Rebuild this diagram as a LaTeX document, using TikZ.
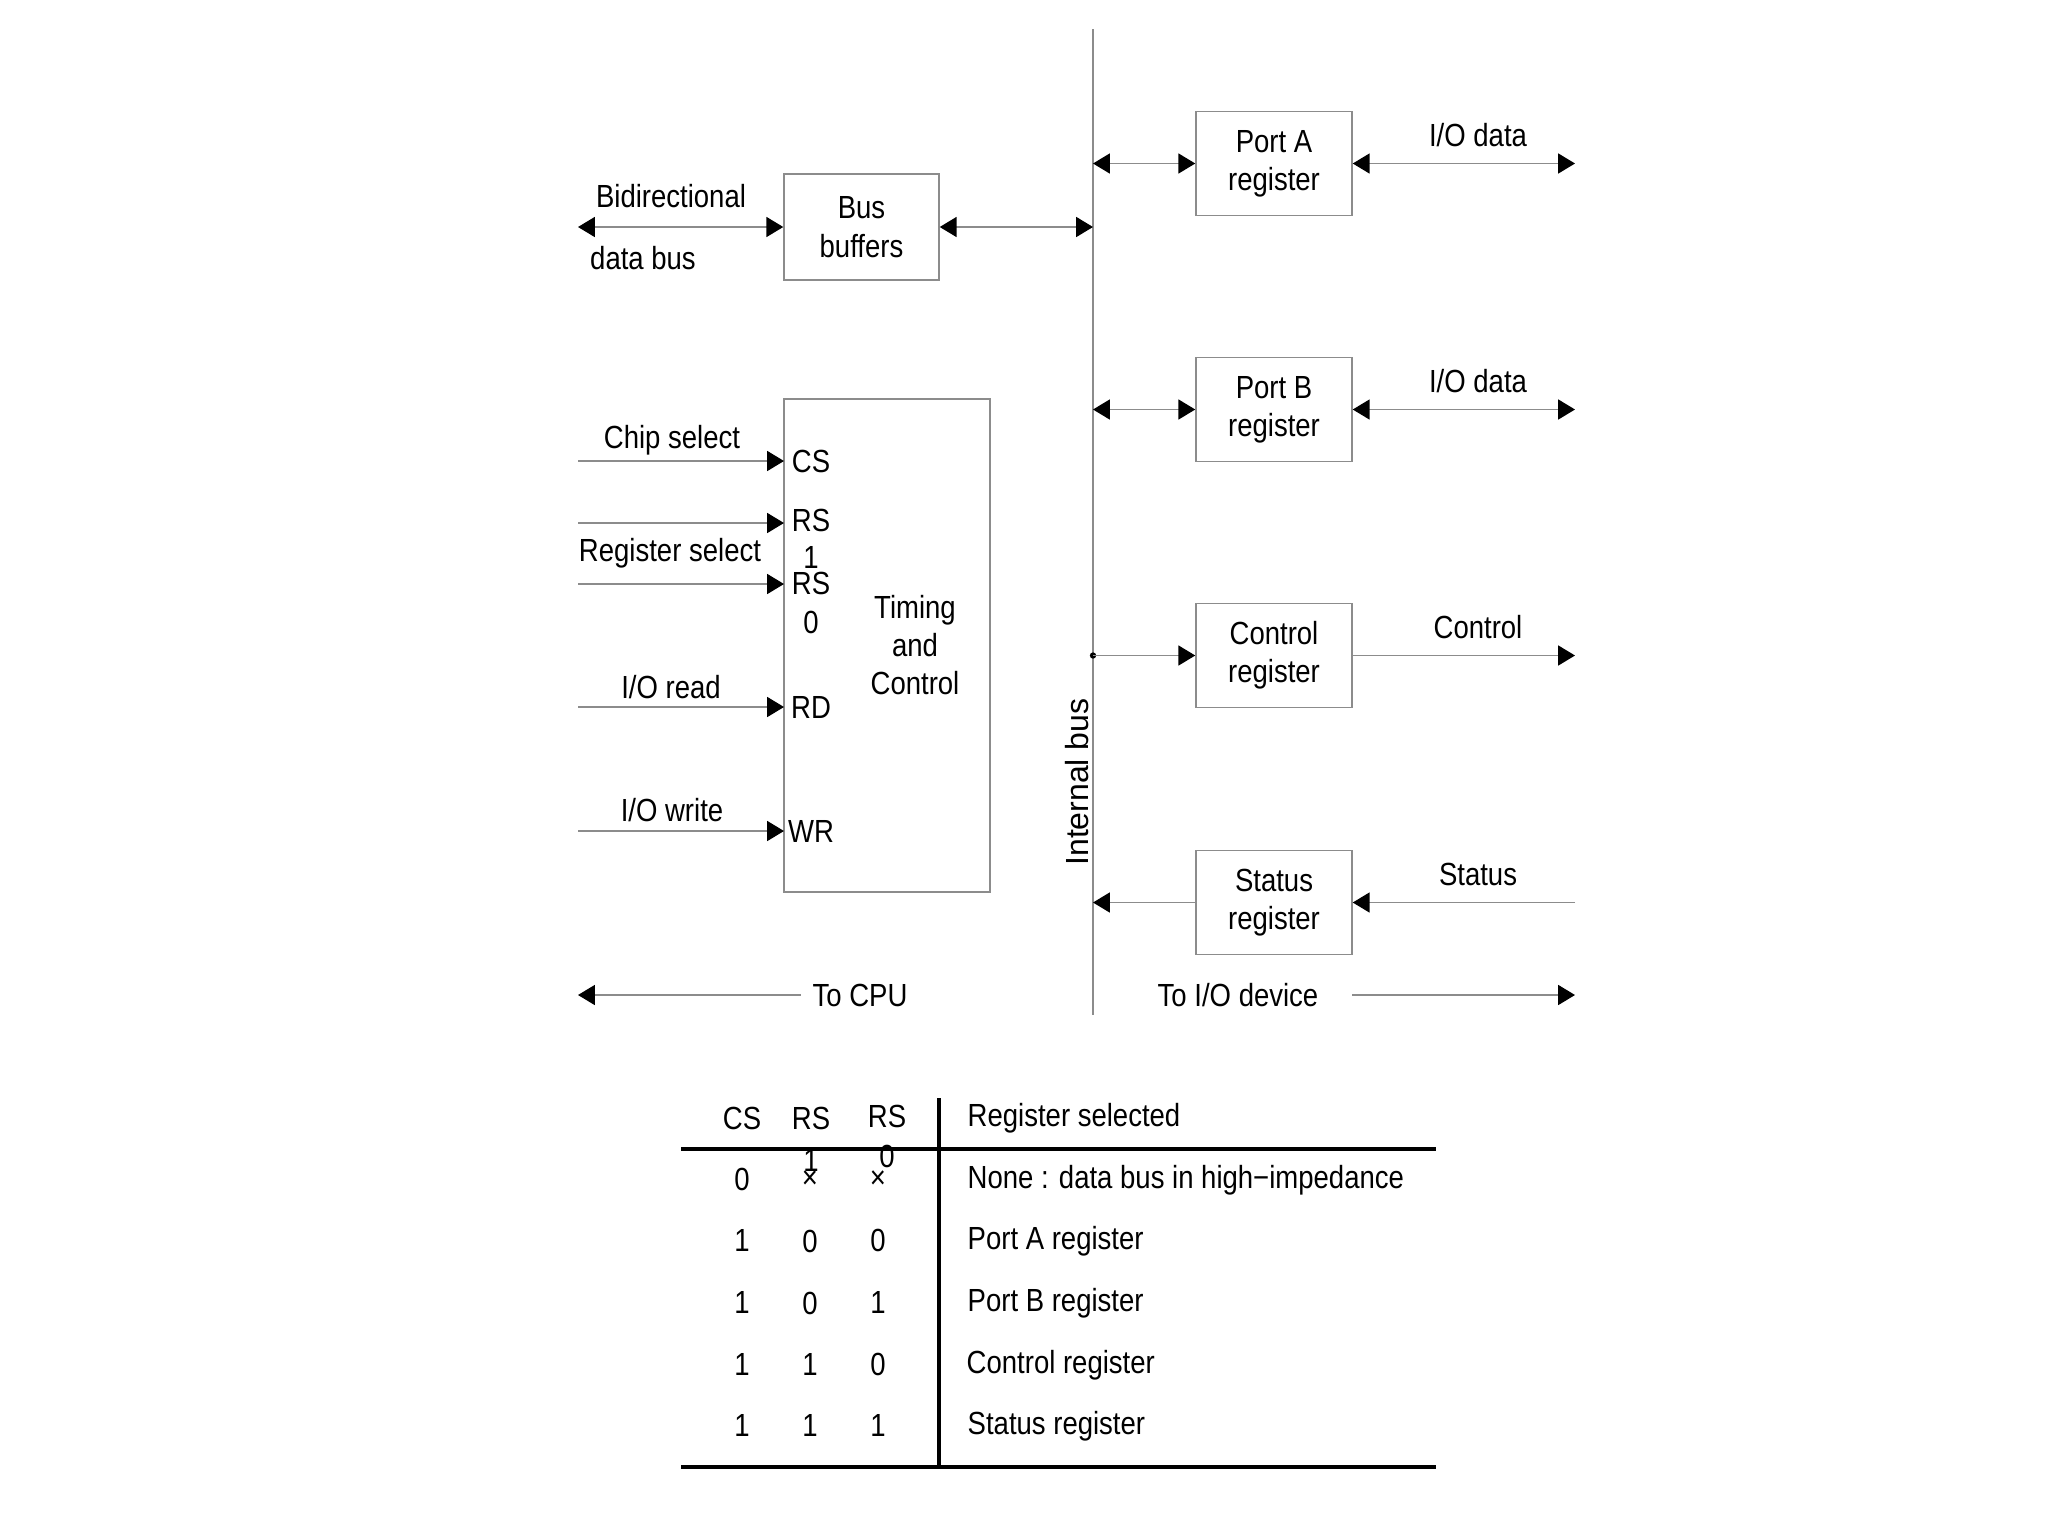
\documentclass[tikz,border=0pt]{standalone}
\usepackage{fontspec}
\setmainfont{Liberation Sans}[FakeStretch=0.86]
\newfontfamily\plainsans{Liberation Sans}
\usetikzlibrary{arrows.meta}
\definecolor{lngray}{RGB}{140,140,140}
\tikzset{
  tip/.tip={Triangle[length=4.8pt,width=5.7pt,color=black]},
  conn/.style={draw=lngray,line width=0.4pt},
  regbox/.style={draw=lngray,line width=0.4pt,minimum width=1.56cm,minimum height=1.04cm,align=center,inner sep=0pt},
  lbl/.style={inner sep=0pt,align=center},
  pinlbl/.style={inner sep=0pt,text height=6.4pt,text depth=0pt},
  rule/.style={draw=black,line width=1.1pt},
}
\begin{document}
\begin{tikzpicture}[x=0.01cm,y=-0.01cm,font=\fontsize{9.1}{10.9}\selectfont]
\useasboundingbox (0,0) rectangle (2048,1536);

% internal bus
\coordinate (bustop) at (1093,29);
\coordinate (busbot) at (1093,1015);
\draw[conn] (bustop) -- (busbot);
\node[lbl,rotate=90,font=\plainsans\fontsize{9.1}{10.9}\selectfont] (intbus) at (1077,782) {Internal bus};

% bus buffers
\node[regbox,minimum width=1.55cm,minimum height=1.06cm] (bb) at (861.5,227) {Bus\\buffers};
\coordinate (bbl) at (578,227);
\coordinate (bbr) at (1093,227);
\draw[conn,{tip}-{tip}] (bbl) -- (bb.west);
\draw[conn,{tip}-{tip}] (bb.east) -- (bbr);
\node[lbl] (bidir) at (671,196) {Bidirectional};
\node[lbl] (databus) at (643,258) {data bus};

% timing and control
\node[draw=lngray,line width=0.4pt,minimum width=2.06cm,minimum height=4.93cm,inner sep=0pt] (tc) at (887,645.5) {};
\node[lbl] (tctext) at (915,645) {Timing\\and\\Control};

\node[pinlbl] (pcs) at (811,461) {CS};
\node[pinlbl] (prs1) at (811,520) {RS};
\node[pinlbl] (prs1b) at (811,557) {1};
\node[pinlbl] (prs0) at (811,583) {RS};
\node[pinlbl] (prs0b) at (811,622) {0};
\node[pinlbl] (prd) at (811,707) {RD};
\node[pinlbl] (pwr) at (811,831) {WR};

\coordinate (incs) at (578,461);
\coordinate (incsE) at (784,461);
\coordinate (inrs1) at (578,523);
\coordinate (inrs1E) at (784,523);
\coordinate (inrs0) at (578,584);
\coordinate (inrs0E) at (784,584);
\coordinate (inrd) at (578,707);
\coordinate (inrdE) at (784,707);
\coordinate (inwr) at (578,831);
\coordinate (inwrE) at (784,831);
\draw[conn,-{tip}] (incs) -- (incsE);
\draw[conn,-{tip}] (inrs1) -- (inrs1E);
\draw[conn,-{tip}] (inrs0) -- (inrs0E);
\draw[conn,-{tip}] (inrd) -- (inrdE);
\draw[conn,-{tip}] (inwr) -- (inwrE);
\node[lbl] (lcs) at (672,440) {Chip select};
\node[lbl] (lrs) at (670,553) {Register select};
\node[lbl] (lrd) at (671,687) {I/O read};
\node[lbl] (lwr) at (672,810) {I/O write};

% registers
\node[regbox] (pa) at (1274,163.5) {Port A\\register};
\node[regbox] (pb) at (1274,409.5) {Port B\\register};
\node[regbox] (cr) at (1274,655.5) {Control\\register};
\node[regbox] (sr) at (1274,902.5) {Status\\register};

\coordinate (paL) at (1093,163.5);
\coordinate (paR) at (1575,163.5);
\coordinate (pbL) at (1093,409.5);
\coordinate (pbR) at (1575,409.5);
\coordinate (crR) at (1575,655.5);
\coordinate (srL) at (1093,902.5);
\coordinate (srR) at (1575,902.5);
\draw[conn,{tip}-{tip}] (paL) -- (pa.west);
\draw[conn,{tip}-{tip}] (pa.east) -- (paR);
\draw[conn,{tip}-{tip}] (pbL) -- (pb.west);
\draw[conn,{tip}-{tip}] (pb.east) -- (pbR);
\node[circle,fill=black,inner sep=0pt,minimum size=1.8pt] (dot) at (1093,655.5) {};
\draw[conn,-{tip}] (dot.center) -- (cr.west);
\draw[conn,-{tip}] (cr.east) -- (crR);
\draw[conn,-{tip}] (srR) -- (sr.east);
\draw[conn,-{tip}] (sr.west) -- (srL);

\node[lbl] (ioa) at (1478,135) {I/O data};
\node[lbl] (iob) at (1478,381) {I/O data};
\node[lbl] (ctl) at (1478,627) {Control};
\node[lbl] (sta) at (1478,874) {Status};

% bottom labels
\node[lbl] (tocpu) at (860,995) {To CPU};
\coordinate (tocpuL) at (578,995);
\draw[conn,-{tip}] (tocpu.west) ++(-11,0) -- (tocpuL);
\node[lbl] (todev) at (1238,995) {To I/O device};
\coordinate (todevR) at (1575,995);
\coordinate (todevS) at (1352,995);
\draw[conn,-{tip}] (todevS) -- (todevR);

% table
\node[lbl] (hcs) at (742,1118) {CS};
\node[pinlbl] (hrs1) at (811,1118) {RS};
\node[pinlbl] (hrs1b) at (811,1160) {1};
\node[pinlbl] (hrs0) at (887,1116) {RS};
\node[pinlbl] (hrs0b) at (887,1156) {0};
\node[lbl,anchor=west] (hreg) at (967,1118) {Register selected};

\coordinate (tl) at (681,1149);
\coordinate (tr) at (1436,1149);
\coordinate (bl) at (681,1467);
\coordinate (br) at (1436,1467);
\coordinate (vt) at (939,1098);
\coordinate (vb) at (939,1467);
\draw[rule] (tl) -- (tr);
\draw[rule] (bl) -- (br);
\draw[draw=black,line width=0.9pt] (vt) -- (vb);

\node[lbl] (r1a) at (742,1179) {0};
\node[lbl] (r1b) at (810,1180) {×};
\node[lbl] (r1c) at (878,1180) {×};
\node[lbl,anchor=west] (r1t) at (967,1180) {None : data bus in high−impedance};
\node[lbl] (r2a) at (742,1240) {1};
\node[lbl] (r2b) at (810,1241) {0};
\node[lbl] (r2c) at (878,1240) {0};
\node[lbl,anchor=west] (r2t) at (967,1241) {Port A register};
\node[lbl] (r3a) at (742,1302) {1};
\node[lbl] (r3b) at (810,1303) {0};
\node[lbl] (r3c) at (878,1302) {1};
\node[lbl,anchor=west] (r3t) at (967,1303) {Port B register};
\node[lbl] (r4a) at (742,1364) {1};
\node[lbl] (r4b) at (810,1364) {1};
\node[lbl] (r4c) at (878,1364) {0};
\node[lbl,anchor=west] (r4t) at (966,1365) {Control register};
\node[lbl] (r5a) at (742,1425) {1};
\node[lbl] (r5b) at (810,1425) {1};
\node[lbl] (r5c) at (878,1425) {1};
\node[lbl,anchor=west] (r5t) at (967,1426) {Status register};
\end{tikzpicture}
\end{document}
